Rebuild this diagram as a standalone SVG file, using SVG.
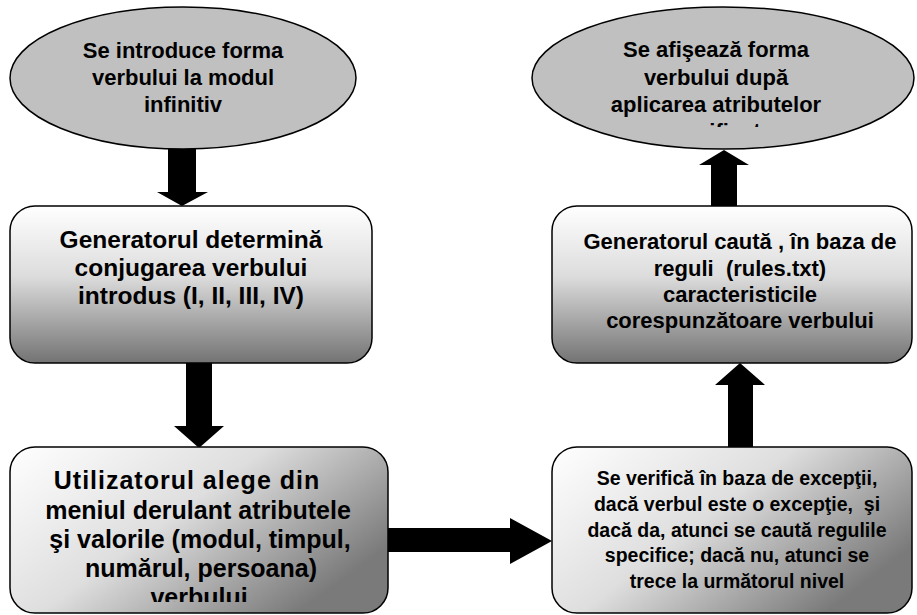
<svg xmlns="http://www.w3.org/2000/svg" width="917" height="615" viewBox="0 0 917 615">
  <style>
    .oval { fill: #c0c0c0; stroke: #000; stroke-width: 1.5; }
    .box { stroke: #000; stroke-width: 1.5; }
    .t { font-family: "Liberation Sans", Arial, sans-serif; font-weight: bold; fill: #000; text-anchor: middle; }
    .arrow { fill: #000; stroke: none; }
  </style>
  <defs>
    <linearGradient id="gradV" x1="0" y1="0" x2="0" y2="1">
      <stop offset="0" stop-color="#ffffff"/>
      <stop offset="0.45" stop-color="#dcdcdc"/>
      <stop offset="1" stop-color="#737373"/>
    </linearGradient>
    <linearGradient id="gradD" x1="0" y1="0" x2="1" y2="0.6">
      <stop offset="0" stop-color="#ffffff"/>
      <stop offset="0.5" stop-color="#dedede"/>
      <stop offset="1" stop-color="#7a7a7a"/>
    </linearGradient>
    <clipPath id="clipOut">
      <rect x="532" y="20" width="383" height="107"/>
    </clipPath>
    <clipPath id="clipUser">
      <rect x="10" y="455" width="378" height="147"/>
    </clipPath>
  </defs>

  <!-- connectors -->
  <g id="connectors">
    <polygon class="arrow" points="168,146 196,146 196,192 208,192 182,206 157,192 168,192"/>
    <polygon class="arrow" points="186,363 212,363 212,426 224,426 199,448 174,426 186,426"/>
    <polygon class="arrow" points="388,528 510,528 510,518 552,541 510,564 510,552 388,552"/>
    <polygon class="arrow" points="728,447 728,385 715,385 740,363 765,385 753,385 753,447"/>
    <polygon class="arrow" points="711,206 711,165 699,165 724,150 749,165 737,165 737,206"/>
  </g>

  <!-- start: input form -->
  <g id="node-input">
    <ellipse class="oval" cx="183" cy="78" rx="173" ry="71"/>
    <text class="t" font-size="22"><tspan x="183" y="58">Se introduce forma</tspan><tspan x="183" y="85">verbului la modul</tspan><tspan x="183" y="112">infinitiv</tspan></text>
  </g>

  <!-- conjugation detection -->
  <g id="node-conjugation">
    <rect class="box" x="10" y="206" width="362" height="157" rx="25" fill="url(#gradV)"/>
    <text class="t" font-size="24.5"><tspan x="191" y="248">Generatorul determină</tspan><tspan x="191" y="276">conjugarea verbului</tspan><tspan x="191" y="304">introdus (I, II, III, IV)</tspan></text>
  </g>

  <!-- user selects attributes -->
  <g id="node-attributes">
    <rect class="box" x="10" y="447" width="378" height="166" rx="25" fill="url(#gradD)"/>
    <text class="t" font-size="25" clip-path="url(#clipUser)"><tspan x="187" y="489" letter-spacing="1">Utilizatorul alege din</tspan><tspan x="198" y="519">meniul derulant atributele</tspan><tspan x="200" y="548">şi valorile (modul, timpul,</tspan><tspan x="201" y="577">numărul, persoana)</tspan><tspan x="199" y="606">verbului</tspan></text>
  </g>

  <!-- exception check -->
  <g id="node-exceptions">
    <rect class="box" x="552" y="447" width="360" height="166" rx="25" fill="url(#gradD)"/>
    <text class="t" font-size="19.5"><tspan x="737" y="485">Se verifică în baza de excepţii,</tspan><tspan x="737" y="511">dacă verbul este o excepţie,&#160; şi</tspan><tspan x="737" y="537">dacă da, atunci se caută regulile</tspan><tspan x="737" y="562">specifice; dacă nu, atunci se</tspan><tspan x="737" y="588">trece la următorul nivel</tspan></text>
  </g>

  <!-- rule lookup -->
  <g id="node-rules">
    <rect class="box" x="552" y="206" width="360" height="157" rx="25" fill="url(#gradV)"/>
    <text class="t" font-size="22"><tspan x="740" y="249">Generatorul caută , în baza de</tspan><tspan x="740" y="276">reguli&#160; (rules.txt)</tspan><tspan x="740" y="302">caracteristicile</tspan><tspan x="740" y="328">corespunzătoare verbului</tspan></text>
  </g>

  <!-- end: output form -->
  <g id="node-output">
    <ellipse class="oval" cx="723" cy="78" rx="191" ry="71"/>
    <text class="t" font-size="22" clip-path="url(#clipOut)"><tspan x="716" y="57">Se afişează forma</tspan><tspan x="716" y="85">verbului după</tspan><tspan x="716" y="112">aplicarea atributelor</tspan><tspan x="716" y="139">specificate</tspan></text>
  </g>
</svg>
